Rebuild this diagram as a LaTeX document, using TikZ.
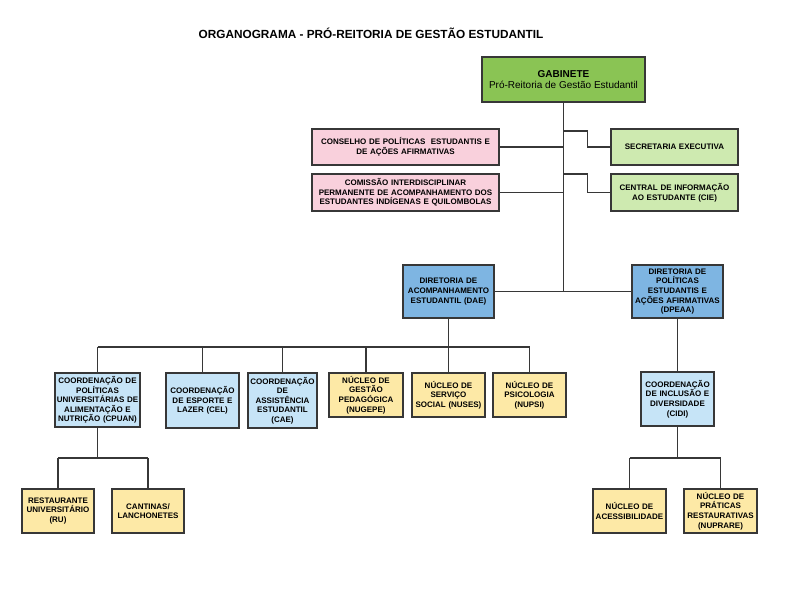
\documentclass[tikz,border=0pt]{standalone}
\usepackage{fontspec}
\setmainfont{Liberation Sans}
\definecolor{gdark}{RGB}{138,196,84}
\definecolor{glight}{RGB}{206,234,176}
\definecolor{pinkc}{RGB}{249,208,220}
\definecolor{bmed}{RGB}{126,181,226}
\definecolor{blight}{RGB}{198,228,247}
\definecolor{yel}{RGB}{253,233,166}
\definecolor{edge}{RGB}{55,55,55}
\begin{document}
\begin{tikzpicture}[x=1pt,y=-1pt,
  box/.style={draw=edge, line width=1.3pt, inner sep=0pt, align=center,
    font=\fontsize{8}{9.6}\selectfont\bfseries},
  conn/.style={draw=edge, line width=1.2pt},
]
\fill[white] (0,0) rectangle (800,600);
\useasboundingbox (0,0) rectangle (800,600);

\node[font=\fontsize{11.8}{13}\selectfont\bfseries] (title) at (371,33) {ORGANOGRAMA - PRÓ-REITORIA DE GESTÃO ESTUDANTIL};

% top level
\node[box, fill=gdark, minimum width=163pt, minimum height=45pt, font=\fontsize{10}{11.5}\selectfont] (gab) at (563.5,79.5)
  {\textbf{GABINETE}\\Pró-Reitoria de Gestão Estudantil};
\node[box, fill=pinkc, minimum width=187pt, minimum height=36pt, text width=185pt] (cons) at (405.5,147)
  {CONSELHO DE POLÍTICAS\ \ ESTUDANTIS E\\DE AÇÕES AFIRMATIVAS};
\node[box, fill=pinkc, minimum width=187pt, minimum height=37pt, text width=185pt] (com) at (405.5,192.5)
  {COMISSÃO INTERDISCIPLINAR\\PERMANENTE DE ACOMPANHAMENTO DOS\\ESTUDANTES INDÍGENAS E QUILOMBOLAS};
\node[box, fill=glight, minimum width=127pt, minimum height=36pt, text width=125pt] (sec) at (674.5,147)
  {SECRETARIA EXECUTIVA};
\node[box, fill=glight, minimum width=127pt, minimum height=37pt, text width=125pt] (cie) at (674.5,192.5)
  {CENTRAL DE INFORMAÇÃO\\AO ESTUDANTE (CIE)};

% directorates
\node[box, fill=bmed, minimum width=91pt, minimum height=53pt, text width=89pt] (dae) at (448.5,291.5)
  {DIRETORIA DE\\ACOMPANHAMENTO\\ESTUDANTIL (DAE)};
\node[box, fill=bmed, minimum width=91pt, minimum height=53pt, text width=89pt] (dpeaa) at (677.5,291.5)
  {DIRETORIA DE\\POLÍTICAS\\ESTUDANTIS E\\AÇÕES AFIRMATIVAS\\(DPEAA)};

% third row
\node[box, fill=blight, minimum width=85pt, minimum height=54pt, text width=84pt] (cpuan) at (97.5,400)
  {COORDENAÇÃO DE\\POLÍTICAS\\UNIVERSITÁRIAS DE\\ALIMENTAÇÃO E\\NUTRIÇÃO (CPUAN)};
\node[box, fill=blight, minimum width=73pt, minimum height=55pt, text width=72pt] (cel) at (202.5,400.5)
  {COORDENAÇÃO\\DE ESPORTE E\\LAZER (CEL)};
\node[box, fill=blight, minimum width=69pt, minimum height=55pt, text width=68pt] (cae) at (282.5,400.5)
  {COORDENAÇÃO\\DE\\ASSISTÊNCIA\\ESTUDANTIL\\(CAE)};
\node[box, fill=yel, minimum width=74pt, minimum height=44pt, text width=73pt] (nugepe) at (366,395)
  {NÚCLEO DE\\GESTÃO\\PEDAGÓGICA\\(NUGEPE)};
\node[box, fill=yel, minimum width=73pt, minimum height=44pt, text width=72pt] (nuses) at (448.5,395)
  {NÚCLEO DE\\SERVIÇO\\SOCIAL (NUSES)};
\node[box, fill=yel, minimum width=73pt, minimum height=44pt, text width=72pt] (nupsi) at (529.5,395)
  {NÚCLEO DE\\PSICOLOGIA\\(NUPSI)};
\node[box, fill=blight, minimum width=73pt, minimum height=54pt, text width=72pt] (cidi) at (677.5,399)
  {COORDENAÇÃO\\DE INCLUSÃO E\\DIVERSIDADE\\(CIDI)};

% fourth row
\node[box, fill=yel, minimum width=72pt, minimum height=44pt, text width=71pt] (ru) at (58,511)
  {RESTAURANTE\\UNIVERSITÁRIO\\(RU)};
\node[box, fill=yel, minimum width=72pt, minimum height=44pt, text width=71pt] (cant) at (148,511)
  {CANTINAS/\\LANCHONETES};
\node[box, fill=yel, minimum width=73pt, minimum height=44pt, text width=72pt] (aces) at (629.5,511)
  {NÚCLEO DE\\ACESSIBILIDADE};
\node[box, fill=yel, minimum width=73pt, minimum height=44pt, text width=72pt] (nuprare) at (720.5,511)
  {NÚCLEO DE\\PRÁTICAS\\RESTAURATIVAS\\(NUPRARE)};

% connectors
\draw[conn] (gab.south) -- (gab.south |- dae.east);
\draw[conn] (dae.east) -- (dpeaa.west);
\draw[conn] (cons.east) -- (cons.east -| gab.south);
\draw[conn] (com.east) -- (com.east -| gab.south);
\coordinate (j1) at (563.5,131);
\coordinate (j2) at (563.5,174);
\draw[conn] (j1) -- ++(24,0) |- (sec.west);
\draw[conn] (j2) -- ++(24,0) |- (cie.west);

\coordinate (b1) at (448.5,347);
\draw[conn] (dae.south) -- (b1);
\draw[conn] (cpuan.north |- b1) -- (nupsi.north |- b1);
\foreach \n in {cpuan,cel,cae,nugepe,nuses,nupsi}
  \draw[conn] (\n.north) -- (\n.north |- b1);
\draw[conn] (dpeaa.south) -- (cidi.north);

\coordinate (b2) at (97.5,458);
\draw[conn] (cpuan.south) -- (b2);
\draw[conn] (ru.north |- b2) -- (cant.north |- b2);
\draw[conn] (ru.north) -- (ru.north |- b2);
\draw[conn] (cant.north) -- (cant.north |- b2);

\coordinate (b3) at (677.5,458);
\draw[conn] (cidi.south) -- (b3);
\draw[conn] (aces.north |- b3) -- (nuprare.north |- b3);
\draw[conn] (aces.north) -- (aces.north |- b3);
\draw[conn] (nuprare.north) -- (nuprare.north |- b3);
\end{tikzpicture}
\end{document}
